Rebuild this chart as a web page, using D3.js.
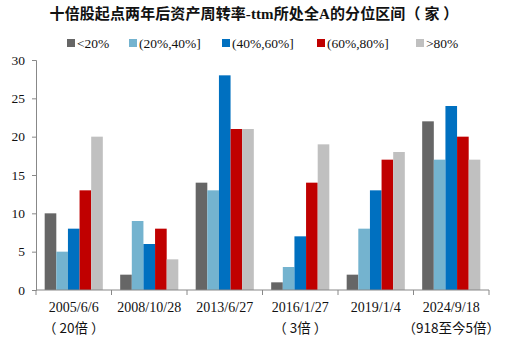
<!DOCTYPE html>
<html><head><meta charset="utf-8">
<script src="https://cdn.jsdelivr.net/npm/d3@7"></script>
<style>body{margin:0;background:#fff}</style>
</head><body>
<svg id="c" width="505" height="344"></svg>
<script>
const categories = ["2005/6/6","2008/10/28","2013/6/27","2016/1/27","2019/1/4","2024/9/18"];
const subLabels = ["（ 20倍 ）","","","（ 3倍 ）","","（918至今5倍）"];
const seriesNames = ["<20%","(20%,40%]","(40%,60%]","(60%,80%]",">80%"];
const seriesColors = ["#666666","#74B3CF","#0070C0","#C00000","#C0C0C0"];
const s1 = [10,2,14,1,2,22];
const s2 = [5,9,13,3,8,17];
const s3 = [8,6,28,7,13,24];
const s4 = [13,8,21,14,17,20];
const s5 = [20,4,21,19,18,17];
const seriesValues = [s1,s2,s3,s4,s5];
const yTicks = [0,5,10,15,20,25,30];

const svg = d3.select("#c");
const serif = "'Liberation Serif','Times New Roman','Noto Sans CJK SC',serif";
const x0 = d3.scaleBand().domain(categories).range([36,489]).paddingInner(0.23).paddingOuter(0.115);
const x1 = d3.scaleBand().domain(d3.range(5)).range([0,x0.bandwidth()]);
const y = d3.scaleLinear().domain([0,30]).range([290,60]);

svg.append("text").attr("x",254).attr("y",19).attr("text-anchor","middle")
  .attr("font-family",serif).attr("font-weight","bold").attr("font-size",15).attr("letter-spacing",0.1).attr("fill","#111")
  .text("十倍股起点两年后资产周转率-ttm所处全A的分位区间（ 家 ）");

// legend
const legX = [67,129,222,317,416];
seriesNames.forEach((n,i)=>{
  const g = svg.append("g");
  g.append("rect").attr("x",legX[i]).attr("y",39).attr("width",8).attr("height",8).attr("fill",seriesColors[i]);
  g.append("text").attr("x",legX[i]+10).attr("y",48).attr("font-family",serif).attr("font-size",13.5).attr("fill","#111").text(n);
});

// bars
seriesValues.forEach((vals,si)=>{
  svg.append("g").selectAll("rect").data(vals).join("rect")
    .attr("x",(d,i)=>x0(categories[i])+x1(si))
    .attr("y",d=>y(d))
    .attr("width",x1.bandwidth())
    .attr("height",d=>y(0)-y(d))
    .attr("fill",seriesColors[si]);
});

// y axis
const ya = svg.append("g").attr("transform","translate(36,0)")
  .call(d3.axisLeft(y).tickValues(yTicks).tickSize(4).tickPadding(7));
ya.select(".domain").attr("stroke","#888");
ya.selectAll(".tick line").attr("stroke","#888");
ya.selectAll("text").attr("font-family",serif).attr("font-size",13.5).attr("fill","#111");

// x axis
const xa = svg.append("g").attr("transform","translate(0,290)");
xa.append("line").attr("x1",36).attr("x2",489).attr("y1",0).attr("y2",0).attr("stroke","#888");
const step = (489-36)/categories.length;
d3.range(categories.length+1).forEach(i=>{
  xa.append("line").attr("x1",36+i*step).attr("x2",36+i*step).attr("y1",0).attr("y2",5).attr("stroke","#888");
});
categories.forEach((c,i)=>{
  const cx = x0(c)+x0.bandwidth()/2;
  xa.append("text").attr("x",cx).attr("y",22).attr("text-anchor","middle")
    .attr("font-family",serif).attr("font-size",14).attr("fill","#111").text(c);
  if(subLabels[i]) xa.append("text").attr("x",cx).attr("y",43).attr("text-anchor","middle")
    .attr("font-family","'Noto Sans CJK SC',sans-serif").attr("font-size",13.5).attr("fill","#111").text(subLabels[i]);
});
</script>
</body></html>
